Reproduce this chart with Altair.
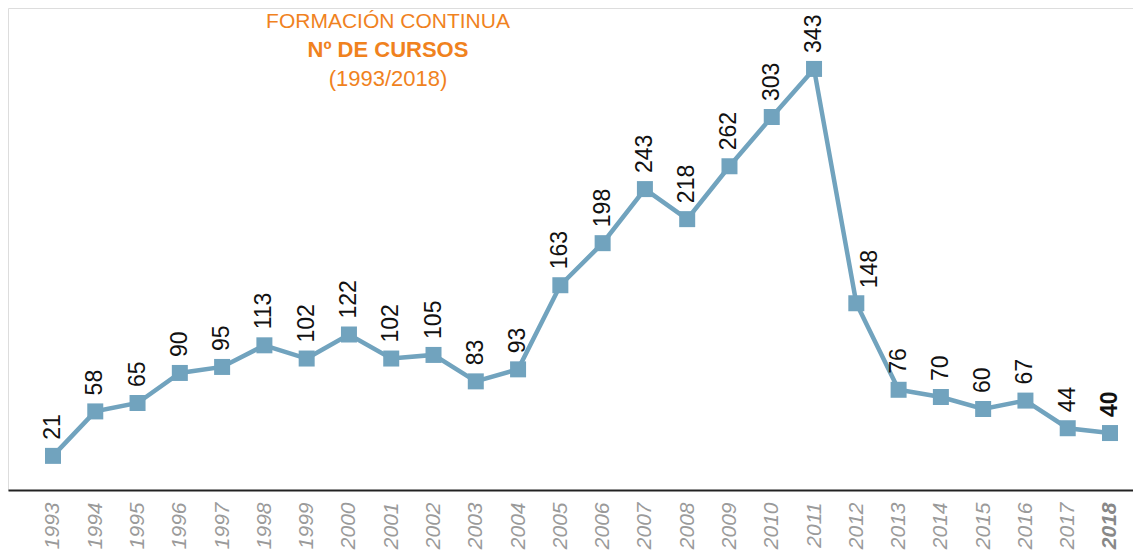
import altair as alt
import pandas as pd

years = list(range(1993, 2019))
courses = [21, 58, 65, 90, 95, 113, 102, 122, 102, 105, 83, 93, 163, 198,
           243, 218, 262, 303, 343, 148, 76, 70, 60, 67, 44, 40]
title_lines = ["FORMACIÓN CONTINUA", "Nº DE CURSOS", "(1993/2018)"]

df = pd.DataFrame({"year": years, "value": courses})

W, H = 1125, 482
LINE = "#71A3BE"
ORANGE = "#F0821E"
FONT = "Liberation Sans"

x = alt.X("year:Q",
          scale=alt.Scale(domain=[1991.936, 2018.544], nice=False, zero=False),
          axis=alt.Axis(values=years, format="d", labelAngle=-90, ticks=False,
                        grid=False, title=None, labelPadding=12, labelFontSize=21,
                        labelFont=FONT, labelFontStyle="italic",
                        labelColor={"expr": "datum.value == 2018 ? '#888888' : '#9a9a9a'"},
                        labelFontWeight={"expr": "datum.value == 2018 ? 'bold' : 'normal'"},
                        domainColor="#222222", domainWidth=2, labelOverlap=False))
y = alt.Y("value:Q", scale=alt.Scale(domain=[-7.4, 393.7], nice=False, zero=False),
          axis=None)

base = alt.Chart(df)
line = base.mark_line(color=LINE, strokeWidth=4.5).encode(x=x, y=y)
pts = base.mark_square(color=LINE, size=256, opacity=1).encode(x=x, y=y)
labels = base.mark_text(angle=270, align="left", baseline="middle", dx=16,
                        fontSize=23, font=FONT, color="#111111").encode(
    x=x, y=y, text="value:Q").transform_filter(
    "datum.year != 2018 && datum.year != 2012")
label_2012 = base.mark_text(angle=270, align="left", baseline="middle", dx=15, dy=14,
                            fontSize=23, font=FONT, color="#111111").encode(
    x=x, y=y, text="value:Q").transform_filter("datum.year == 2012")
label_last = base.mark_text(angle=270, align="left", baseline="middle", dx=16,
                            fontSize=23, font=FONT, fontWeight="bold",
                            color="#111111").encode(
    x=x, y=y, text="value:Q").transform_filter("datum.year == 2018")

t1 = alt.Chart(pd.DataFrame({"t": [title_lines[0]]})).mark_text(
    fontSize=21, font=FONT, color=ORANGE, align="center", baseline="middle").encode(
    text="t:N", x=alt.value(380), y=alt.value(14))
t2 = alt.Chart(pd.DataFrame({"t": [title_lines[1]]})).mark_text(
    fontSize=22, font=FONT, fontWeight="bold", color=ORANGE, align="center",
    baseline="middle").encode(text="t:N", x=alt.value(380), y=alt.value(42))
t3 = alt.Chart(pd.DataFrame({"t": [title_lines[2]]})).mark_text(
    fontSize=22, font=FONT, color=ORANGE, align="center", baseline="middle").encode(
    text="t:N", x=alt.value(380), y=alt.value(71))

chart = alt.layer(line, pts, labels, label_2012, label_last, t1, t2, t3).properties(
    width=W, height=H,
    autosize=alt.AutoSizeParams(type="none"),
    padding={"left": 0, "top": 0, "right": 0, "bottom": 60},
).configure_view(stroke=None).configure(background="white")

chart.save("out.html", embed_options={"renderer": "svg", "actions": False})
